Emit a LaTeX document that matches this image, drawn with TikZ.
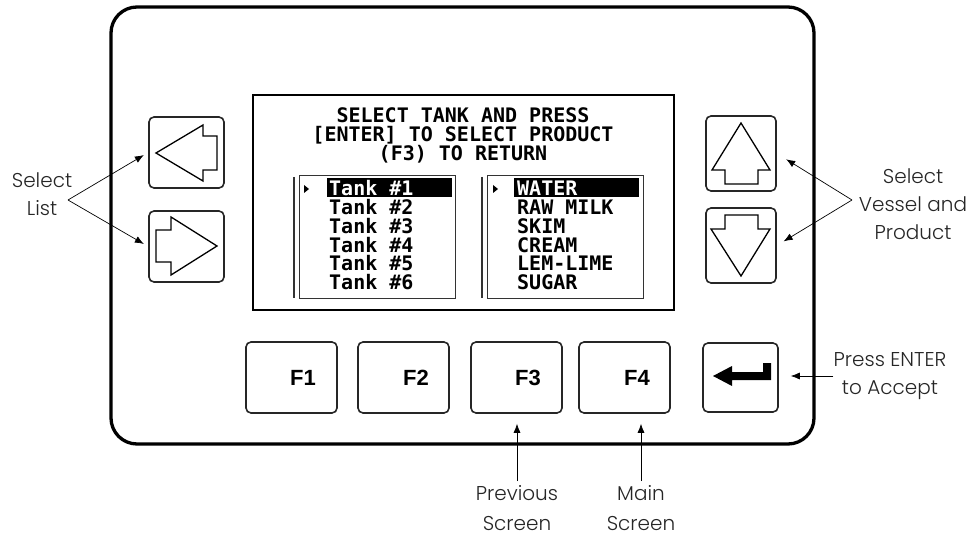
\documentclass[tikz,border=0pt]{standalone}
\usepackage{fontspec}
\setmainfont{Poppins}[UprightFont=* Light]
\newfontfamily\keyfont{Liberation Sans}
\newfontfamily\lcdfont{DejaVu Sans Mono}
\usetikzlibrary{arrows.meta,calc}
\begin{document}
\begin{tikzpicture}[x=1pt,y=-1pt,
  frame/.style={line width=3.3pt, rounded corners=26pt},
  keybox/.style={draw=black!85, line width=1.6pt, rounded corners=5pt, inner sep=0pt},
  keysym/.style={line width=1.3pt, line join=miter},
  keylbl/.style={font=\keyfont\bfseries\fontsize{22}{24}\selectfont, inner sep=0pt},
  lbl/.style={font=\fontsize{20}{28}\selectfont, align=center, inner sep=0pt, text=black!85},
  conn/.style={line width=0.7pt, -{Latex[length=9pt,width=7pt]}},
  lcd/.style={font=\lcdfont\bfseries\fontsize{20}{18}\selectfont, inner sep=0pt, text height=14pt, text depth=2.5pt},
  lcdbox/.style={draw=black!80, line width=1pt}]
\useasboundingbox (0,0) rectangle (972,537);
% outer frame
\draw[frame] (111,7) rectangle (814,444);
% screen
\draw[line width=2pt] (253,95) rectangle (674,310);
\node[lcd, anchor=base] (title1) at (463,123) {SELECT TANK AND PRESS};
\node[lcd, anchor=base] (title2) at (463,142) {{[}ENTER{]} TO SELECT PRODUCT};
\node[lcd, anchor=base] (title3) at (463,161) {(F3) TO RETURN};
% list boxes
\draw[lcdbox] (299,176) rectangle (455,299);
\draw[line width=1.5pt, black!80] (294,177) -- (294,298);
\draw[lcdbox] (487,176) rectangle (643,299);
\draw[line width=1.5pt, black!80] (482,177) -- (482,298);
\fill (327,178) rectangle (452,197);
\fill (514,178) rectangle (639,197);
\fill (304,185) -- (309,189) -- (304,193) -- cycle;
\fill (493,185) -- (498,189) -- (493,193) -- cycle;
\node[lcd, anchor=base west, text=white] (ta1) at (329,196) {Tank \#1};
\foreach \t [count=\i from 2] in {Tank \#2, Tank \#3, Tank \#4, Tank \#5, Tank \#6}
  \node[lcd, anchor=base west] (ta\i) at (329,{196+18.7*(\i-1)}) {\t};
\node[lcd, anchor=base west, text=white] (pr1) at (517,196) {WATER};
\foreach \t [count=\i from 2] in {RAW MILK, SKIM, CREAM, LEM-LIME, SUGAR}
  \node[lcd, anchor=base west] (pr\i) at (517,{196+18.7*(\i-1)}) {\t};
% side keys
\node[keybox, minimum width=75pt, minimum height=71pt] (lbtn) at (186.5,152.5) {};
\node[keybox, minimum width=75pt, minimum height=71pt] (rbtn) at (186.5,246.5) {};
\node[keybox, minimum width=70pt, minimum height=75pt] (ubtn) at (741,153.5) {};
\node[keybox, minimum width=70pt, minimum height=75pt] (dbtn) at (741,245.5) {};
\draw[keysym] (156,153) -- (203,125) -- (203,136) -- (217,136) -- (217,170) -- (203,170) -- (203,181) -- cycle;
\draw[keysym] (217,246) -- (171,217) -- (171,230) -- (156,230) -- (156,262) -- (171,262) -- (171,275) -- cycle;
\draw[keysym] (741,123) -- (712,170) -- (725,170) -- (725,184) -- (758,184) -- (758,170) -- (770,170) -- cycle;
\draw[keysym] (741,276) -- (711,229) -- (725,229) -- (725,215) -- (758,215) -- (758,229) -- (770,229) -- cycle;
% function keys
\node[keybox, minimum width=91pt, minimum height=71pt] (f1) at (291.5,377.5) {};
\node[keybox, minimum width=91pt, minimum height=71pt] (f2) at (403.5,377.5) {};
\node[keybox, minimum width=91pt, minimum height=71pt] (f3) at (516.5,377.5) {};
\node[keybox, minimum width=91pt, minimum height=71pt] (f4) at (624.5,377.5) {};
\node[keybox, minimum width=75pt, minimum height=69pt] (ent) at (740.5,377.5) {};
\node[keylbl] (f1t) at (303,378) {F1};
\node[keylbl] (f2t) at (416,378) {F2};
\node[keylbl] (f3t) at (528,378) {F3};
\node[keylbl] (f4t) at (637,378) {F4};
\fill (713,376) -- (732,366) -- (732,372) -- (763,372) -- (763,363) -- (771,363) -- (771,380) -- (732,380) -- (732,386) -- cycle;
% labels
\node[lbl] (sl) at (42,194) {Select\\List};
\node[lbl] (sv) at (913,204) {Select\\Vessel and\\Product};
\node[lbl] (pe) at (890,376) {Press ENTER\\to Accept};
\node[lbl, font=\fontsize{20}{30}\selectfont] (prev) at (517,508) {Previous\\Screen};
\node[lbl, font=\fontsize{20}{30}\selectfont] (mainl) at (641,508) {Main\\Screen};
\coordinate (slj) at (68,200);
\coordinate (svj) at (852,200);
% connectors
\draw[conn, shorten >=5pt] (slj) -- (lbtn.west);
\draw[conn, shorten >=5pt] (slj) -- (rbtn.west);
\draw[conn, shorten >=11pt] (svj) -- (ubtn.east);
\draw[conn, shorten >=8pt] (svj) -- (dbtn.east);
\draw[conn, shorten >=12pt] (pe.west) -- (pe.west -| ent.east);
\draw[conn, shorten >=10pt, shorten <=4pt] (prev.north) -- (prev.north |- f3.south);
\draw[conn, shorten >=10pt, shorten <=4pt] (mainl.north) -- (mainl.north |- f4.south);
\end{tikzpicture}
\end{document}
